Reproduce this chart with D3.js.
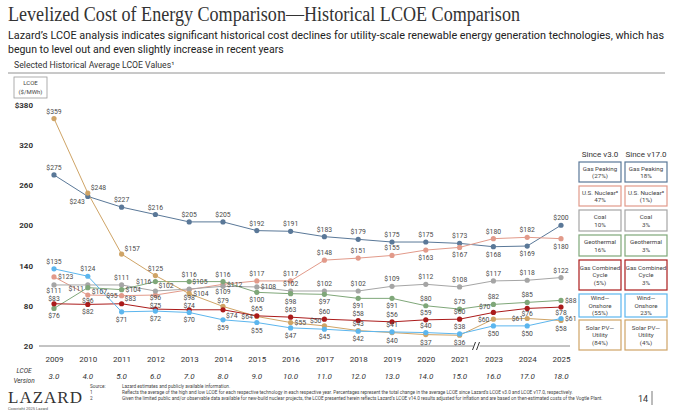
<!DOCTYPE html>
<html>
<head>
<meta charset="utf-8">
<script src="https://cdn.jsdelivr.net/npm/d3@7"></script>
<style>
  body { margin: 0; background: #fff; }
  svg { display: block; font-family: Roboto, "Liberation Sans", sans-serif; }
</style>
</head>
<body>
<div id="chart"></div>
<script>
// chart values
var years = ["2009","2010","2011","2012","2013","2014","2015","2016","2017","2018","2019","2020","2021","2023","2024","2025"];
var versions = ["3.0","4.0","5.0","6.0","7.0","8.0","9.0","10.0","11.0","12.0","13.0","14.0","15.0","16.0","17.0","18.0"];
var yTicks = [20, 80, 140, 200, 260, 320, 380];

var gasPeaking = [275,243,227,216,205,205,192,191,183,179,175,175,173,168,169,200];
var nuclear    = [123,96,95,96,104,112,117,117,148,151,155,163,167,180,182,180];
var coal       = [111,111,111,102,105,109,108,102,102,102,109,112,108,117,118,122];
var geothermal = [76,107,104,116,116,116,100,98,97,91,91,80,75,82,85,88];
var gasCC      = [83,82,83,75,74,74,65,63,60,58,56,59,60,70,76,78];
var wind       = [135,124,71,72,70,59,55,47,45,42,41,40,38,50,50,61];
var solar      = [359,248,157,125,98,79,64,55,50,43,40,37,36,60,61,58];

var sinceV3  = ["(27%)","47%","10%","16%","(5%)","(55%)","(84%)"];
var sinceV17 = ["18%","(1%)","3%","3%","3%","23%","(4%)"];
var techNames = [["Gas Peaking"],["U.S. Nuclear²"],["Coal"],["Geothermal"],["Gas Combined","Cycle"],["Wind—","Onshore"],["Solar PV—","Utility"]];

// where each value label sits relative to its dot
var placeGas   = ["a","bl","a","a","a","a","a","a","a","a","a","a","a","b","b","a"];
var placeNuc   = ["r","b7","l","b5","rb","r","a","a","a","a","a","b","b","a","a","b"];
var placeCoal  = ["b7","lb","a","ar","ar5","b7","r","a","a","a","a","a","a","a","a","a"];
var placeGeo   = ["b","rb","r","l","a","a","b","b","b","b","b","a","a","a","a","r"];
var placeCC    = ["a3","b","ar","a2","a2","br","a","a","a","a","a","a","a","al","b7","b7"];
var placeWind  = ["a","a","b","b","b","b","b","b","b","b","a","a","a","b","b","r"];
var placeSolar = ["a","ar","ar","a","b6","a3","l","r","al","a","b","b","b","l","l","b"];

var series = [
  {vals: gasPeaking, place: placeGas,   color: "#5a7898"},
  {vals: nuclear,    place: placeNuc,   color: "#e29a8a"},
  {vals: coal,       place: placeCoal,  color: "#a5a5a5"},
  {vals: geothermal, place: placeGeo,   color: "#7fa779"},
  {vals: solar,      place: placeSolar, color: "#cfa466"},
  {vals: gasCC,      place: placeCC,    color: "#ab1b1b"},
  {vals: wind,       place: placeWind,  color: "#5cb6ee"}
];
var boxColors = ["#5a7898","#e29a8a","#a5a5a5","#7fa779","#ab1b1b","#5cb6ee","#cfa466"];

var svg = d3.select("#chart").append("svg")
  .attr("width", 680).attr("height", 410);

// header
svg.append("text").attr("x", 8).attr("y", 21)
  .style("font-family", "'Liberation Serif', 'DejaVu Serif', serif")
  .style("font-size", "20px").attr("fill", "#333")
  .attr("textLength", 512).attr("lengthAdjust", "spacingAndGlyphs")
  .text("Levelized Cost of Energy Comparison—Historical LCOE Comparison");

svg.append("text").attr("x", 8).attr("y", 38.5).style("font-size", "10.5px").attr("fill", "#222")
  .attr("textLength", 656).attr("lengthAdjust", "spacingAndGlyphs")
  .text("Lazard’s LCOE analysis indicates significant historical cost declines for utility-scale renewable energy generation technologies, which has");
svg.append("text").attr("x", 8).attr("y", 52.5).style("font-size", "10.5px").attr("fill", "#222")
  .text("begun to level out and even slightly increase in recent years");

svg.append("text").attr("x", 14).attr("y", 68).style("font-size", "8.7px").attr("fill", "#333")
  .text("Selected Historical Average LCOE Values¹");
svg.append("line").attr("x1", 8).attr("x2", 665).attr("y1", 73).attr("y2", 73)
  .attr("stroke", "#777").attr("stroke-width", 0.8);

// LCOE unit box
svg.append("rect").attr("x", 14).attr("y", 77).attr("width", 33).attr("height", 21)
  .attr("fill", "none").attr("stroke", "#999").attr("stroke-width", 0.8);
svg.append("text").attr("x", 30.5).attr("y", 85).attr("text-anchor", "middle")
  .style("font-size", "6px").attr("fill", "#444").text("LCOE");
svg.append("text").attr("x", 30.5).attr("y", 94).attr("text-anchor", "middle")
  .style("font-size", "6px").attr("fill", "#444").text("($/MWh)");

// scales
var x = d3.scalePoint().domain(years).range([54, 561]);
var y = d3.scaleLinear().domain([20, 380]).range([346, 104.5]);

// y axis
var yAxis = svg.append("g").attr("transform", "translate(33,0)")
  .call(d3.axisLeft(y).tickValues(yTicks).tickSize(0).tickPadding(0)
    .tickFormat(function(d) { return d === 380 ? "$" + d : d; }));
yAxis.select(".domain").remove();
yAxis.selectAll("text").style("font-size", "8px").style("font-weight", "bold")
  .style("font-family", "Roboto, sans-serif").attr("fill", "#333");

// x axis
var xAxis = svg.append("g").attr("transform", "translate(0,346)")
  .call(d3.axisBottom(x).tickSize(0).tickPadding(10));
xAxis.select(".domain").remove();
xAxis.selectAll("text").style("font-size", "8px").style("font-family", "Roboto, sans-serif").attr("fill", "#333");

svg.append("line").attr("x1", 39).attr("x2", 570).attr("y1", 346).attr("y2", 346)
  .attr("stroke", "#888").attr("stroke-width", 1);
// axis break between 2021 and 2023
var brk = (x("2021") + x("2023")) / 2;
svg.append("rect").attr("x", brk - 3).attr("y", 342).attr("width", 6).attr("height", 8).attr("fill", "#fff");
[-2, 2].forEach(function(o) {
  svg.append("line").attr("x1", brk + o - 2).attr("x2", brk + o + 1)
    .attr("y1", 350).attr("y2", 342).attr("stroke", "#333").attr("stroke-width", 1);
});

// LCOE version row
svg.selectAll(".ver").data(versions).enter().append("text")
  .attr("x", function(d, i) { return x(years[i]); }).attr("y", 379)
  .attr("text-anchor", "middle").style("font-size", "8px").style("font-style", "italic")
  .attr("fill", "#333").text(function(d) { return d; });
svg.append("text").attr("x", 24).attr("y", 373).attr("text-anchor", "middle")
  .style("font-size", "6.5px").style("font-style", "italic").attr("fill", "#333").text("LCOE");
svg.append("text").attr("x", 24).attr("y", 383).attr("text-anchor", "middle")
  .style("font-size", "6.5px").style("font-style", "italic").attr("fill", "#333").text("Version");

// lines and dots
var line = d3.line().x(function(d, i) { return x(years[i]); }).y(function(d) { return y(d); });
series.forEach(function(s) {
  svg.append("path").datum(s.vals).attr("d", line)
    .attr("fill", "none").attr("stroke", s.color).attr("stroke-width", 1);
});
series.forEach(function(s) {
  svg.selectAll(null).data(s.vals).enter().append("circle")
    .attr("cx", function(d, i) { return x(years[i]); })
    .attr("cy", function(d) { return y(d); })
    .attr("r", 2.6).attr("fill", s.color);
});

// value labels
var off = {
  a:  {dx: 0,  dy: -5,  anchor: "middle"},
  a3: {dx: 0,  dy: -3,  anchor: "middle"},
  a2: {dx: 0,  dy: -1.5, anchor: "middle"},
  b:  {dx: 0,  dy: 10,  anchor: "middle"},
  b7: {dx: 0,  dy: 8,   anchor: "middle"},
  b6: {dx: 0,  dy: 6.5, anchor: "middle"},
  b5: {dx: 0,  dy: 5,   anchor: "middle"},
  r:  {dx: 4,  dy: 2.5, anchor: "start"},
  l:  {dx: -4, dy: 2.5, anchor: "end"},
  rb: {dx: 4,  dy: 6,   anchor: "start"},
  lb: {dx: -4, dy: 6,   anchor: "end"},
  ar: {dx: 3,  dy: -3,  anchor: "start"},
  ar5:{dx: 3,  dy: -4.5, anchor: "start"},
  al: {dx: -3, dy: -3,  anchor: "end"},
  br: {dx: 3,  dy: 8,   anchor: "start"},
  bl: {dx: -3, dy: 8,   anchor: "end"}
};
series.forEach(function(s) {
  svg.selectAll(null).data(s.vals).enter().append("text")
    .attr("x", function(d, i) { return x(years[i]) + off[s.place[i]].dx; })
    .attr("y", function(d, i) { return y(d) + off[s.place[i]].dy; })
    .attr("text-anchor", function(d, i) { return off[s.place[i]].anchor; })
    .style("font-size", "6.8px").attr("fill", "#4a4a4a")
    .text(function(d) { return "$" + d; });
});

// comparison boxes
var colX = [579, 625], boxW = 42;
var rowY = [162, 186, 210, 235, 260, 294, 320];
var rowH = [20, 20, 21, 21, 30, 23, 30];
svg.append("text").attr("x", colX[0] + boxW / 2).attr("y", 157).attr("text-anchor", "middle")
  .style("font-size", "8px").attr("fill", "#333").text("Since v3.0");
svg.append("text").attr("x", colX[1] + boxW / 2).attr("y", 157).attr("text-anchor", "middle")
  .style("font-size", "8px").attr("fill", "#333").text("Since v17.0");

[sinceV3, sinceV17].forEach(function(col, c) {
  col.forEach(function(pct, r) {
    svg.append("rect").attr("x", colX[c]).attr("y", rowY[r]).attr("width", boxW).attr("height", rowH[r])
      .attr("fill", "#fff").attr("stroke", boxColors[r]).attr("stroke-width", 1.2);
    var linesTxt = techNames[r].concat([pct]);
    var lh = 7.5;
    var y0 = rowY[r] + rowH[r] / 2 - (linesTxt.length - 1) * lh / 2 + 2.3;
    linesTxt.forEach(function(t, k) {
      svg.append("text").attr("x", colX[c] + boxW / 2).attr("y", y0 + k * lh)
        .attr("text-anchor", "middle").style("font-size", "6.2px").attr("fill", "#444").text(t);
    });
  });
});

// footer
svg.append("text").attr("x", 8).attr("y", 403)
  .style("font-family", "'Liberation Serif', serif").style("font-size", "17px")
  .style("letter-spacing", "1px").attr("fill", "#333").text("LAZARD");
svg.append("text").attr("x", 8).attr("y", 409.5).style("font-size", "4px").attr("fill", "#555")
  .text("Copyright 2025 Lazard");

var notes = [["Source:", "Lazard estimates and publicly available information."],
  ["1", "Reflects the average of the high and low LCOE for each respective technology in each respective year. Percentages represent the total change in the average LCOE since Lazard’s LCOE v3.0 and LCOE v17.0, respectively."],
  ["2", "Given the limited public and/or observable data available for new-build nuclear projects, the LCOE presented herein reflects Lazard’s LCOE v14.0 results adjusted for inflation and are based on then-estimated costs of the Vogtle Plant."]];
notes.forEach(function(n, i) {
  svg.append("text").attr("x", 90).attr("y", 388 + i * 6).style("font-size", "4.7px").attr("fill", "#444").text(n[0]);
  svg.append("text").attr("x", 122).attr("y", 388 + i * 6).style("font-size", "4.7px").attr("fill", "#444").text(n[1]);
});

svg.append("text").attr("x", 638).attr("y", 402).style("font-size", "9px").attr("fill", "#333").text("14");
svg.append("line").attr("x1", 652).attr("x2", 652).attr("y1", 391).attr("y2", 405)
  .attr("stroke", "#555").attr("stroke-width", 0.8);
</script>
</body>
</html>
